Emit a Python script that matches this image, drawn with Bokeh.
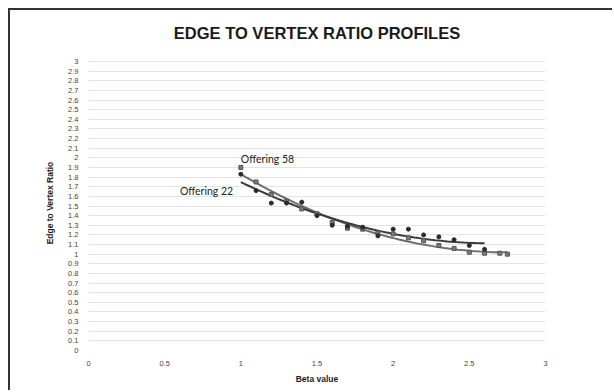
import numpy as np
from bokeh.plotting import figure
from bokeh.models import FixedTicker, Label
from bokeh.embed import file_html
from bokeh.resources import INLINE

# ---- data ----
x58 = [1.0, 1.1, 1.2, 1.3, 1.4, 1.5, 1.6, 1.7, 1.8, 1.9, 2.0, 2.1, 2.2, 2.3, 2.4, 2.5, 2.6, 2.7, 2.75]
y58 = [1.90, 1.75, 1.62, 1.55, 1.47, 1.42, 1.33, 1.27, 1.26, 1.22, 1.21, 1.17, 1.14, 1.09, 1.06, 1.02, 1.01, 1.01, 1.00]
x22 = [1.0, 1.1, 1.2, 1.3, 1.4, 1.5, 1.6, 1.7, 1.8, 1.9, 2.0, 2.1, 2.2, 2.3, 2.4, 2.5, 2.6]
y22 = [1.83, 1.66, 1.53, 1.53, 1.54, 1.40, 1.30, 1.29, 1.28, 1.19, 1.26, 1.26, 1.20, 1.18, 1.15, 1.09, 1.05]

y_ticks = [0.0, 0.1, 0.2, 0.3, 0.4, 0.5, 0.6, 0.7, 0.8, 0.9, 1.0, 1.1, 1.2, 1.3, 1.4, 1.5,
           1.6, 1.7, 1.8, 1.9, 2.0, 2.1, 2.2, 2.3, 2.4, 2.5, 2.6, 2.7, 2.8, 2.9, 3.0]
y_labels = ["0", "0.1", "0.2", "0.3", "0.4", "0.5", "0.6", "0.7", "0.8", "0.9", "1", "1.1", "1.2",
            "1.3", "1.4", "1.5", "1.6", "1.7", "1.8", "1.9", "2", "2.1", "2.2", "2.3", "2.4", "2.5",
            "2.6", "2.7", "2.8", "2.9", "3"]
x_ticks = [0.0, 0.5, 1.0, 1.5, 2.0, 2.5, 3.0]
x_labels = ["0", "0.5", "1", "1.5", "2", "2.5", "3"]
title_text = "EDGE TO VERTEX RATIO PROFILES"

# y range extends above 3 to leave room for the title inside the frame
p = figure(width=604, height=382, output_backend="svg", toolbar_location=None,
           x_range=(0, 3), y_range=(0, 3.405),
           min_border_left=78, min_border_right=69, min_border_top=12, min_border_bottom=42)
p.styles = {"border-left": "2px solid #333333", "border-top": "2px solid #333333",
            "margin-left": "8px", "margin-top": "8px"}

p.outline_line_color = None
p.background_fill_color = "white"
p.border_fill_color = "white"

p.xgrid.grid_line_color = None
p.ygrid.ticker = FixedTicker(ticks=y_ticks)
p.ygrid.grid_line_color = "#e4e4e4"
p.ygrid.grid_line_width = 1

for ax in (p.xaxis[0], p.yaxis[0]):
    ax.axis_line_color = None
    ax.major_tick_line_color = None
    ax.minor_tick_line_color = None
    ax.major_label_text_font = "Liberation Sans"
    ax.major_label_text_font_size = "7.5px"
    ax.major_label_text_color = "#444444"
    ax.axis_label_text_font = "Liberation Sans"
    ax.axis_label_text_font_size = "8.5px"
    ax.axis_label_text_font_style = "bold"
    ax.axis_label_text_color = "#1a1a1a"

p.yaxis.ticker = FixedTicker(ticks=y_ticks)
p.yaxis.major_label_overrides = {t: l for t, l in zip(y_ticks, y_labels)}
# trailing no-break spaces shift the centred label down to the 0..3 span
p.yaxis.axis_label = "Edge to Vertex Ratio" + "\u00a0" * 14
p.yaxis.major_label_standoff = 4
p.yaxis.axis_label_standoff = 10

p.xaxis.ticker = FixedTicker(ticks=x_ticks)
p.xaxis.major_label_overrides = {t: l for t, l in zip(x_ticks, x_labels)}
p.xaxis.axis_label = "Beta value"
p.xaxis.major_label_standoff = 4
p.xaxis.axis_label_standoff = 5

# trend lines fitted to the read data
c58 = np.polyfit(x58, y58, 2)
c22 = np.polyfit(x22, y22, 2)
tx58 = np.linspace(min(x58), max(x58), 60)
tx22 = np.linspace(min(x22), max(x22), 60)
p.line(tx58, np.polyval(c58, tx58), line_color="#6e6e6e", line_width=2)
p.line(tx22, np.polyval(c22, tx22), line_color="#3a3a3a", line_width=2)

p.scatter(x58, y58, size=4, marker="square", fill_color="#7a7a7a", line_color="#555555")
p.scatter(x22, y22, size=4, marker="circle", fill_color="#2a2a2a", line_color="#2a2a2a")

p.add_layout(Label(x=1.0, y=1.99, text="Offering 58", text_font="Lato", text_font_size="10.5px",
                   text_color="#222222", text_baseline="middle"))
p.add_layout(Label(x=0.6, y=1.66, text="Offering 22", text_font="Lato", text_font_size="10.5px",
                   text_color="#222222", text_baseline="middle"))

# chart title
p.add_layout(Label(x=1.5, y=3.30, text=title_text, text_font="Liberation Sans",
                   text_font_size="16.5px", text_font_style="bold", text_color="#1a1a1a",
                   text_align="center", text_baseline="middle"))

open("out.html", "w").write(file_html(p, INLINE))
